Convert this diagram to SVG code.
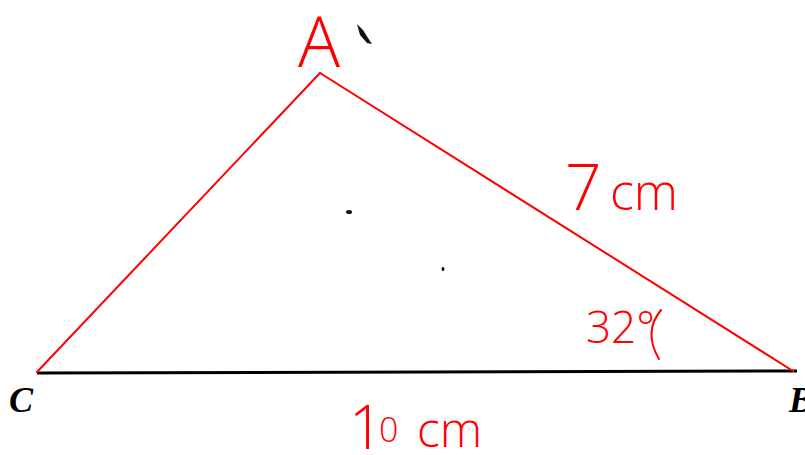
<svg xmlns="http://www.w3.org/2000/svg" width="805" height="455" viewBox="0 0 805 455">
<style>
.hand{fill:#f00;font-family:"Open Sans","Liberation Sans",sans-serif;font-weight:300}
.vtx{fill:#000;font-family:"Liberation Serif",serif;font-weight:bold;font-style:italic;font-size:36px}
.red{stroke:#f00;stroke-width:2;fill:none;stroke-linecap:round}
</style>
<rect width="805" height="455" fill="#fff"/>
<g id="connectors">
<line x1="37" y1="373" x2="797" y2="371" stroke="#000" stroke-width="3"/>
<line class="red" x1="37" y1="372" x2="320" y2="73"/>
<line class="red" x1="320" y1="73" x2="793" y2="371"/>
<path class="red" d="M661 310 Q643 332 659 359" stroke-width="2.5"/>
</g>
<g id="vertex-A"><text class="hand" x="298" y="67" font-size="70">A</text></g>
<g id="vertex-C"><text class="vtx" x="9" y="412">C</text></g>
<g id="vertex-B"><text class="vtx" x="789" y="412">B</text></g>
<g id="label-AB"><text class="hand" x="565" y="210" font-size="64">7<tspan x="610" font-size="50">cm</tspan></text></g>
<g id="label-angle"><text class="hand" x="586" y="343" font-size="44">32°</text></g>
<g id="label-CB"><text class="hand" x="349" y="449" font-size="60">1<tspan x="379" y="442" font-size="34">0</tspan><tspan x="417" y="447" font-size="48">cm</tspan></text></g>
<g id="specks" fill="#111">
<path d="M357 24 L363 30 L368 38 L372 44 L367 43 L360 35 Z"/>
<ellipse cx="349" cy="212" rx="3" ry="2"/>
<ellipse cx="443" cy="269" rx="1.5" ry="2"/>
</g>
</svg>
